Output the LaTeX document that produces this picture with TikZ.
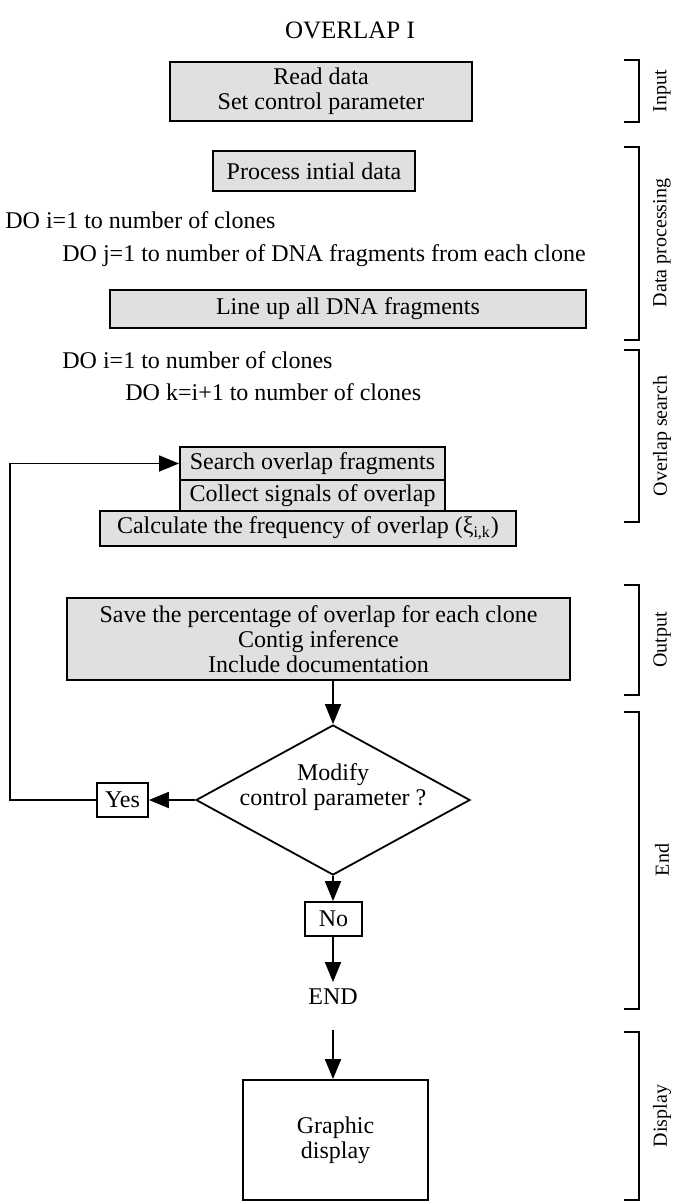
\documentclass[tikz,border=0pt]{standalone}
\usepackage{fontspec}
\setmainfont{Liberation Serif}
\usetikzlibrary{shapes.geometric,arrows.meta}
\tikzset{
  grbox/.style={draw, line width=1pt, fill=gray!24, align=center, inner sep=0pt},
  wbox/.style={draw, line width=0.9pt, fill=white, align=center, inner sep=0pt},
  looptxt/.style={anchor=west, inner sep=0pt},
  flowarr/.style={line width=0.9pt, -{Triangle[length=10pt,width=8pt]}},
  sidelbl/.style={rotate=90, font=\fontsize{10}{12}\selectfont},
  brk/.style={line width=1pt}
}
\begin{document}
\begin{tikzpicture}[x=0.5pt, y=-0.5pt, font=\fontsize{12}{12.5}\selectfont]
        \useasboundingbox (0,0) rectangle (684,1204);
        
        % Title
        \node[font=\fontsize{12.5}{15}\selectfont] (title) at (350,30) {OVERLAP I};%
        
        % Input
        \node[grbox, minimum width=151pt, minimum height=29.5pt] (readdata) at (321,91.5) {Read data\\Set control parameter};%
        
        % Data processing
        \node[grbox, minimum width=101pt, minimum height=20pt] (procdata) at (314,171) {Process intial data};%
        \node[looptxt] (loopi) at (5,220) {DO i=1 to number of clones};%
        \node[looptxt] (loopj) at (62,256) {DO j=1 to number of DNA fragments from each clone};%
        \node[grbox, minimum width=238pt, minimum height=19pt] (lineup) at (348,309) {Line up all DNA fragments};%
        
        % Overlap search
        \node[looptxt] (loopii) at (62,360) {DO i=1 to number of clones};%
        \node[looptxt] (loopk) at (125,392) {DO k=i+1 to number of clones};%
        \node[grbox, minimum width=132.5pt, minimum height=16.5pt] (search) at (312.5,463.5) {Search overlap fragments};%
        \node[grbox, minimum width=132.5pt, minimum height=15.5pt] (collect) at (312.5,495.5) {Collect signals of overlap};%
        \node[grbox, minimum width=208pt, minimum height=17.5pt] (calcfreq) at (308,528.5) {Calculate the frequency of overlap (ξ\textsubscript{i,k})};%
        
        % Output
        \node[grbox, minimum width=251.5pt, minimum height=41pt] (output) at (318.5,639) {Save the percentage of overlap for each clone\\Contig inference\\Include documentation};%
        
        % End
        \node[draw, shape=diamond, aspect=1.83, minimum width=137pt, minimum height=75pt, inner sep=0pt, line width=0.9pt] (modify) at (333,800) {};%
        \node[align=center, anchor=south, inner sep=0pt] (modtxt) at ([yshift=-5.5pt]modify.center) {Modify\\control parameter ?};%
        \node[wbox, minimum width=25.5pt, minimum height=17pt] (yes) at (122.5,800) {Yes};%
        \node[wbox, minimum width=28.5pt, minimum height=17pt] (no) at (333.5,919) {No};%
        \node (endtxt) at (333,997) {END};%
        
        % Display
        \node[wbox, minimum width=92.5pt, minimum height=60pt] (graphic) at (335.5,1140) {Graphic\\display};%
        
        % Connectors
        \coordinate (loopx) at (10,800);%
        \coordinate (dispin) at (333,1030);%
        \draw[flowarr] (output.south -| modify.north) -- (modify.north);%
        \draw[flowarr] (modify.west) -- (yes.east);%
        \draw[flowarr] (yes.west) -- (loopx) |- (search.west);%
        \draw[flowarr] (modify.south) -- (no.north -| modify.south);%
        \draw[flowarr] (no.south -| modify.south) -- (endtxt.north -| modify.south);%
        \draw[flowarr] (dispin) -- (graphic.north -| dispin);%
        
        % Brackets at the right side
        \draw[brk] (624,60) -- (639,60) -- (639,122) -- (624,122);%
        \node[sidelbl] (lblinput) at (662,91) {Input};%
        \draw[brk] (624,147) -- (639,147) -- (639,340) -- (624,340);%
        \node[sidelbl] (lbldata) at (662,243) {Data processing};%
        \draw[brk] (624,350) -- (639,350) -- (639,522) -- (624,522);%
        \node[sidelbl] (lblsearch) at (662,436) {Overlap search};%
        \draw[brk] (624,585) -- (639,585) -- (639,695) -- (624,695);%
        \node[sidelbl] (lbloutput) at (662,640) {Output};%
        \draw[brk] (624,712) -- (639,712) -- (639,1009) -- (624,1009);%
        \node[sidelbl] (lblend) at (662,860) {End};%
        \draw[brk] (624,1032) -- (639,1032) -- (639,1200) -- (624,1200);%
        \node[sidelbl] (lbldisplay) at (662,1116) {Display};%
\end{tikzpicture}
\end{document}
